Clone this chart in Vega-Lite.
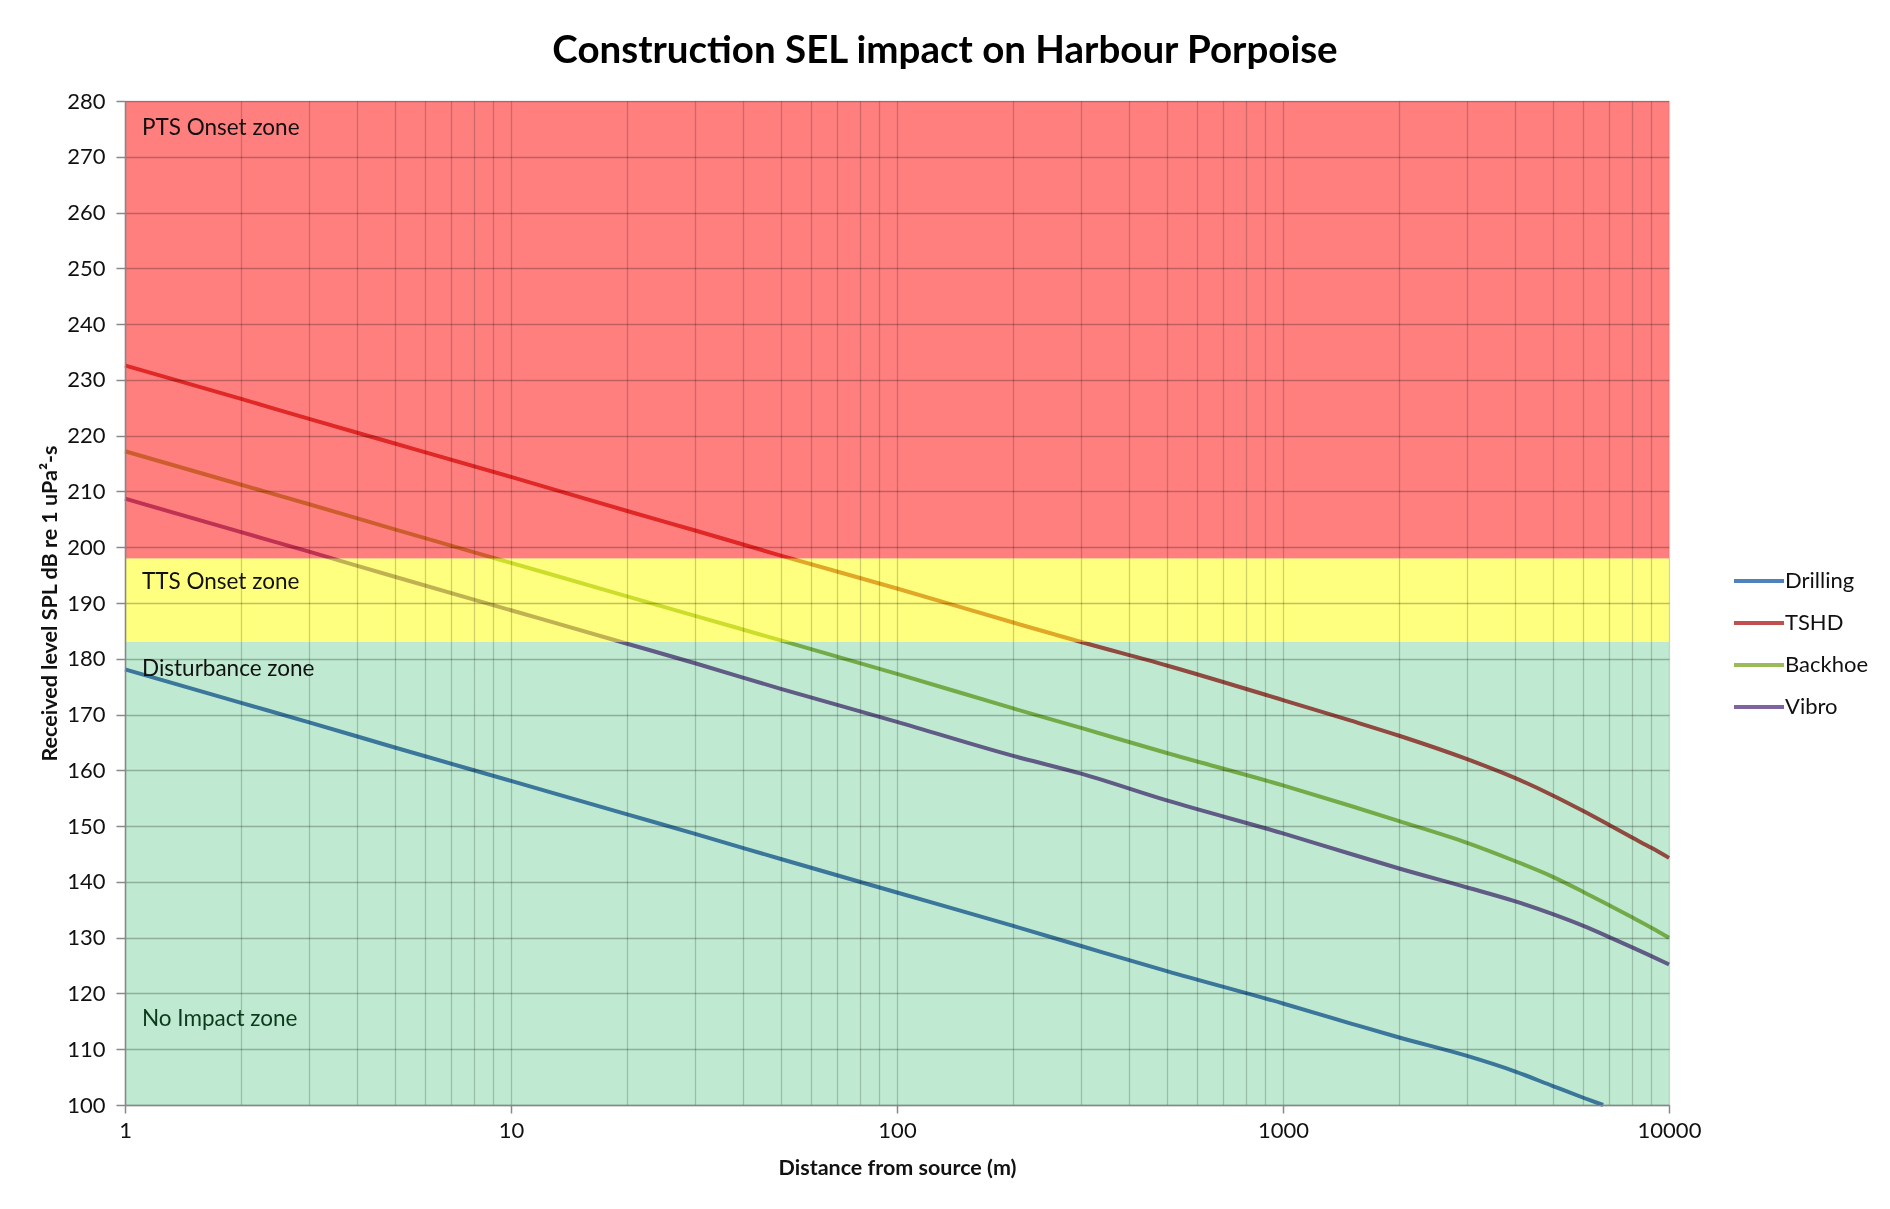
{
  "$schema": "https://vega.github.io/schema/vega-lite/v6.json",
  "width": 1544,
  "height": 1004,
  "autosize": {"type": "none"},
  "padding": {"left": 125, "top": 101, "right": 221, "bottom": 104},
  "background": "white",
  "title": {
    "text": "Construction SEL impact on Harbour Porpoise",
    "font": "Lato",
    "fontSize": 38.5,
    "fontWeight": "bold",
    "color": "#000000",
    "anchor": "middle",
    "dx": 48,
    "offset": 19
  },
  "config": {
    "view": {"stroke": null},
    "font": "Lato",
    "axis": {
      "zindex": 1,
      "domainColor": "#888888",
      "domainWidth": 1.5,
      "tickColor": "#888888",
      "tickWidth": 1.5,
      "labelFont": "Lato",
      "labelFontSize": 22,
      "labelColor": "#111111",
      "titleFont": "Lato",
      "titleFontSize": 21.5,
      "titleFontWeight": "bold",
      "titleColor": "#111111",
      "grid": true,
      "gridColor": "#000000"
    }
  },
  "datasets": {
    "zones": [
      {"zone": "PTS Onset", "upper": 280, "lower": 198},
      {"zone": "TTS Onset", "upper": 198, "lower": 183},
      {"zone": "Disturbance", "upper": 183, "lower": 100}
    ],
    "zone_labels": [
      {"label": "PTS Onset zone", "label_at": 275.2},
      {"label": "TTS Onset zone", "label_at": 193.8},
      {"label": "Disturbance zone", "label_at": 178.2},
      {"label": "No Impact zone", "label_at": 115.4}
    ],
    "levels": [
      {"source": "Drilling", "distance": 1, "level": 178.1},
      {"source": "Drilling", "distance": 2, "level": 172.1},
      {"source": "Drilling", "distance": 3, "level": 168.6},
      {"source": "Drilling", "distance": 5, "level": 164.1},
      {"source": "Drilling", "distance": 10, "level": 158.1},
      {"source": "Drilling", "distance": 20, "level": 152.1},
      {"source": "Drilling", "distance": 30, "level": 148.6},
      {"source": "Drilling", "distance": 50, "level": 144.1},
      {"source": "Drilling", "distance": 100, "level": 138.1},
      {"source": "Drilling", "distance": 200, "level": 132.1},
      {"source": "Drilling", "distance": 300, "level": 128.5},
      {"source": "Drilling", "distance": 500, "level": 124.0},
      {"source": "Drilling", "distance": 1000, "level": 118.2},
      {"source": "Drilling", "distance": 1500, "level": 114.6},
      {"source": "Drilling", "distance": 2000, "level": 112.1},
      {"source": "Drilling", "distance": 3000, "level": 108.8},
      {"source": "Drilling", "distance": 4000, "level": 106.0},
      {"source": "Drilling", "distance": 5000, "level": 103.4},
      {"source": "Drilling", "distance": 6000, "level": 101.3},
      {"source": "Drilling", "distance": 6750, "level": 100.0},
      {"source": "TSHD", "distance": 1, "level": 232.6},
      {"source": "TSHD", "distance": 2, "level": 226.6},
      {"source": "TSHD", "distance": 3, "level": 223.0},
      {"source": "TSHD", "distance": 5, "level": 218.6},
      {"source": "TSHD", "distance": 10, "level": 212.6},
      {"source": "TSHD", "distance": 20, "level": 206.5},
      {"source": "TSHD", "distance": 30, "level": 203.0},
      {"source": "TSHD", "distance": 50, "level": 198.5},
      {"source": "TSHD", "distance": 100, "level": 192.6},
      {"source": "TSHD", "distance": 200, "level": 186.5},
      {"source": "TSHD", "distance": 300, "level": 183.0},
      {"source": "TSHD", "distance": 500, "level": 178.8},
      {"source": "TSHD", "distance": 1000, "level": 172.6},
      {"source": "TSHD", "distance": 1500, "level": 168.9},
      {"source": "TSHD", "distance": 2000, "level": 166.2},
      {"source": "TSHD", "distance": 3000, "level": 162.0},
      {"source": "TSHD", "distance": 4000, "level": 158.6},
      {"source": "TSHD", "distance": 5000, "level": 155.5},
      {"source": "TSHD", "distance": 6000, "level": 152.7},
      {"source": "TSHD", "distance": 7000, "level": 150.2},
      {"source": "TSHD", "distance": 8000, "level": 148.0},
      {"source": "TSHD", "distance": 9000, "level": 146.1},
      {"source": "TSHD", "distance": 10000, "level": 144.3},
      {"source": "Backhoe", "distance": 1, "level": 217.2},
      {"source": "Backhoe", "distance": 2, "level": 211.2},
      {"source": "Backhoe", "distance": 3, "level": 207.7},
      {"source": "Backhoe", "distance": 5, "level": 203.2},
      {"source": "Backhoe", "distance": 10, "level": 197.2},
      {"source": "Backhoe", "distance": 20, "level": 191.2},
      {"source": "Backhoe", "distance": 30, "level": 187.7},
      {"source": "Backhoe", "distance": 50, "level": 183.3},
      {"source": "Backhoe", "distance": 100, "level": 177.3},
      {"source": "Backhoe", "distance": 200, "level": 171.1},
      {"source": "Backhoe", "distance": 300, "level": 167.6},
      {"source": "Backhoe", "distance": 500, "level": 163.1},
      {"source": "Backhoe", "distance": 1000, "level": 157.3},
      {"source": "Backhoe", "distance": 1500, "level": 153.6},
      {"source": "Backhoe", "distance": 2000, "level": 150.9},
      {"source": "Backhoe", "distance": 3000, "level": 147.0},
      {"source": "Backhoe", "distance": 4000, "level": 143.7},
      {"source": "Backhoe", "distance": 5000, "level": 140.9},
      {"source": "Backhoe", "distance": 6000, "level": 138.2},
      {"source": "Backhoe", "distance": 7000, "level": 135.8},
      {"source": "Backhoe", "distance": 8000, "level": 133.7},
      {"source": "Backhoe", "distance": 9000, "level": 131.8},
      {"source": "Backhoe", "distance": 10000, "level": 130.0},
      {"source": "Vibro", "distance": 1, "level": 208.7},
      {"source": "Vibro", "distance": 2, "level": 202.7},
      {"source": "Vibro", "distance": 3, "level": 199.2},
      {"source": "Vibro", "distance": 5, "level": 194.7},
      {"source": "Vibro", "distance": 10, "level": 188.7},
      {"source": "Vibro", "distance": 20, "level": 182.7},
      {"source": "Vibro", "distance": 30, "level": 179.2},
      {"source": "Vibro", "distance": 50, "level": 174.6},
      {"source": "Vibro", "distance": 100, "level": 168.7},
      {"source": "Vibro", "distance": 200, "level": 162.6},
      {"source": "Vibro", "distance": 300, "level": 159.4},
      {"source": "Vibro", "distance": 500, "level": 154.6},
      {"source": "Vibro", "distance": 1000, "level": 148.7},
      {"source": "Vibro", "distance": 1500, "level": 145.0},
      {"source": "Vibro", "distance": 2000, "level": 142.4},
      {"source": "Vibro", "distance": 3000, "level": 139.0},
      {"source": "Vibro", "distance": 4000, "level": 136.5},
      {"source": "Vibro", "distance": 5000, "level": 134.2},
      {"source": "Vibro", "distance": 6000, "level": 132.1},
      {"source": "Vibro", "distance": 7000, "level": 130.1},
      {"source": "Vibro", "distance": 8000, "level": 128.3},
      {"source": "Vibro", "distance": 9000, "level": 126.7},
      {"source": "Vibro", "distance": 10000, "level": 125.2}
    ]
  },
  "layer": [
    {
      "data": {"name": "zones"},
      "transform": [{"filter": "datum.zone === 'Disturbance'"}],
      "mark": {"type": "rect"},
      "encoding": {
        "y": {"field": "upper", "type": "quantitative", "title": "Received level SPL dB re 1 uPa²-s", "scale": {"domain": [100, 280], "nice": false, "zero": false}},
        "y2": {"field": "lower"},
        "fill": {"field": "zone", "type": "nominal", "legend": null, "scale": {"domain": ["PTS Onset", "TTS Onset", "Disturbance"], "range": ["#FF0000", "#FFFF00", "#BFEAD1"]}}
      }
    },
    {
      "data": {"name": "levels"},
      "mark": {"type": "line", "strokeWidth": 4, "blend": "multiply", "interpolate": "monotone"},
      "encoding": {
        "x": {
          "field": "distance", "type": "quantitative", "title": "Distance from source (m)",
          "scale": {"type": "log", "domain": [1, 10000], "nice": false},
          "axis": {
            "zindex": 1,
            "values": [1,2,3,4,5,6,7,8,9,10,20,30,40,50,60,70,80,90,100,200,300,400,500,600,700,800,900,1000,2000,3000,4000,5000,6000,7000,8000,9000,10000],
            "labelExpr": "indexof([1,10,100,1000,10000], datum.value) >= 0 ? format(datum.value, 'd') : ''",
            "labelOverlap": false,
            "labelFlush": false,
            "labelPadding": 7,
            "tickSize": 8,
            "tickOpacity": {"condition": {"test": "indexof([1,10,100,1000,10000], datum.value) >= 0", "value": 1}, "value": 0},
            "gridOpacity": 0.19,
            "gridWidth": 1.3,
            "titlePadding": 16
          }
        },
        "y": {
          "field": "level", "type": "quantitative", "title": "Received level SPL dB re 1 uPa²-s",
          "scale": {"domain": [100, 280], "nice": false, "zero": false},
          "axis": {
            "zindex": 1,
            "values": [100,110,120,130,140,150,160,170,180,190,200,210,220,230,240,250,260,270,280],
            "tickSize": 9,
            "labelPadding": 11,
            "gridOpacity": 0.25,
            "gridWidth": 1.6,
            "titlePadding": 5
          }
        },
        "color": {
          "field": "source", "type": "nominal",
          "scale": {"domain": ["Drilling", "TSHD", "Backhoe", "Vibro"], "range": ["#4F81BD", "#C0504D", "#9BBB59", "#8064A2"]},
          "legend": {
            "title": null,
            "orient": "none",
            "legendX": 1607,
            "legendY": 453,
            "symbolType": "stroke",
            "symbolSize": 2500,
            "symbolStrokeWidth": 4,
            "labelFont": "Lato",
            "labelFontSize": 22,
            "labelColor": "#111111",
            "labelOffset": -1,
            "rowPadding": 4,
            "padding": 0
          }
        }
      }
    },
    {
      "data": {"name": "zones"},
      "transform": [{"filter": "datum.zone !== 'Disturbance'"}],
      "mark": {"type": "rect", "fillOpacity": 0.5},
      "encoding": {
        "y": {"field": "upper", "type": "quantitative", "title": "Received level SPL dB re 1 uPa²-s"},
        "y2": {"field": "lower"},
        "fill": {"field": "zone", "type": "nominal", "legend": null}
      }
    },
    {
      "data": {"name": "zone_labels"},
      "mark": {"type": "text", "align": "left", "baseline": "middle", "font": "Lato", "fontSize": 22.5, "dx": 17},
      "encoding": {
        "x": {"datum": 1, "type": "quantitative", "title": "Distance from source (m)"},
        "y": {"field": "label_at", "type": "quantitative", "title": "Received level SPL dB re 1 uPa²-s"},
        "text": {"field": "label"},
        "color": {"condition": {"test": "datum.label === 'No Impact zone'", "value": "#0B3B1C"}, "value": "#111111"}
      }
    }
  ]
}
